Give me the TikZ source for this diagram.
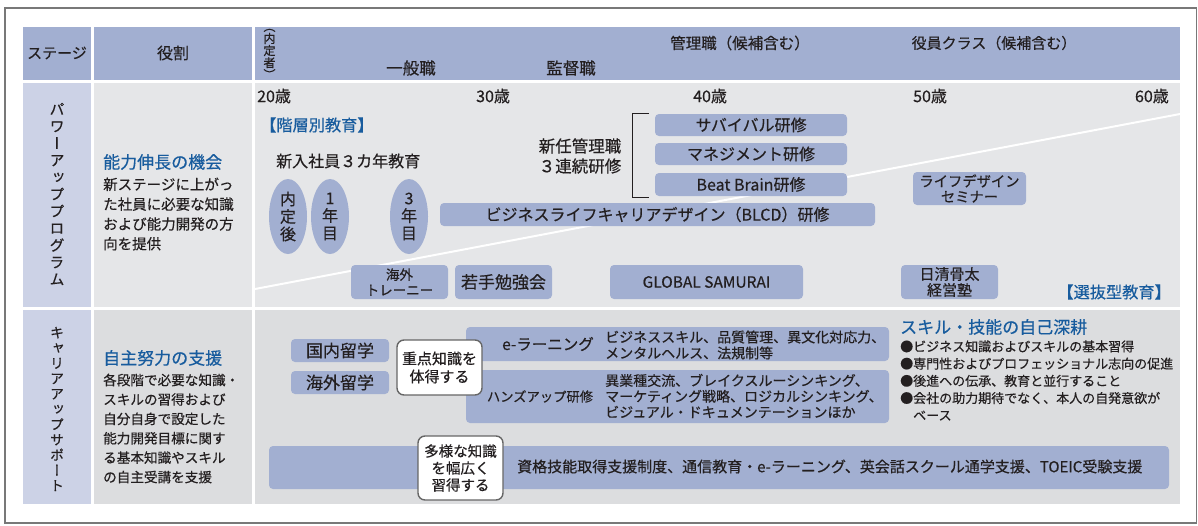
\documentclass[tikz,border=0pt]{standalone}
\usepackage{fontspec}
\usepackage{graphicx}
\setmainfont{Noto Sans CJK JP}[FakeBold=0.45]
\newfontfamily\vfont{Noto Sans CJK JP}[RawFeature={+vert},FakeBold=0.45]
\usetikzlibrary{shapes.geometric}
\definecolor{hdr}{RGB}{162,175,209}
\definecolor{lav}{RGB}{204,210,230}
\definecolor{gA}{RGB}{229,230,232}
\definecolor{gB}{RGB}{220,221,223}
\definecolor{tx}{RGB}{35,31,32}
\definecolor{bl}{RGB}{24,92,158}
\definecolor{frm}{RGB}{120,120,120}
\newcommand{\fs}[2]{\fontsize{#1}{#2}\selectfont}
\tikzset{
  every node/.style={text=tx, inner sep=0pt},
  bx/.style={fill=hdr, rounded corners=4pt, align=center},
  wb/.style={fill=white, draw=frm!85!black, line width=1.4pt, rounded corners=7pt, align=center},
  ell/.style={ellipse, fill=hdr, align=center},
  bluet/.style={text=bl},
  sepline/.style={white, line width=2pt},
  brk/.style={tx, line width=1pt}
}
\begin{document}
\begin{tikzpicture}[x=1pt,y=-1pt]
\useasboundingbox (0,0) rectangle (1198,525);
\fill[white] (0,0) rectangle (1198,525);
\draw[frm, line width=1.2pt] (5,8) rectangle (1196.5,523);
% header
\fill[hdr] (23,27) rectangle (91,80);
\fill[hdr] (94,27) rectangle (252,80);
\fill[hdr] (255,27) rectangle (1180,80);
% row 1
\fill[lav] (23,83) rectangle (91,307);
\fill[gA] (94,83) rectangle (252,307);
\fill[gA] (255,83) rectangle (1180,307);
% row 2
\fill[lav] (23,310) rectangle (91,504);
\fill[gB] (94,310) rectangle (252,504);
\fill[gB] (255,310) rectangle (1180,504);

% header texts
\node[font=\fs{15}{18}] (stage) at (57,53) {ステージ};
\node[font=\fs{16}{18}] (role) at (173,53) {役割};
\node[font=\vfont\fs{12}{10.8}, align=center] (naitei) at (269.5,54) {（\\内\\定\\者\\）};
\node[font=\fs{16.5}{18}] (ippan) at (411,68) {一般職};
\node[font=\fs{16.5}{18}] (kantoku) at (571,68) {監督職};
\node[font=\fs{15.5}{18}] (kanri) at (740,43) {管理職（候補含む）};
\node[font=\fs{15}{18}] (yakuin) at (994,43) {役員クラス（候補含む）};

% column 1 vertical labels
\node[font=\vfont\fs{15}{17}, align=center] (pw) at (57,194) {パ\\ワ\\ー\\ア\\ッ\\プ\\プ\\ロ\\グ\\ラ\\ム};
\node[font=\vfont\fs{14}{15.3}, align=center] (cu) at (57,409) {キ\\ャ\\リ\\ア\\ア\\ッ\\プ\\サ\\ポ\\ー\\ト};

% column 2 texts
\node[font=\fs{17}{20}, bluet, anchor=west] (nouryoku) at (103,162) {能力伸長の機会};
\node[font=\fs{14.5}{19.8}, align=left, anchor=west] (nouryokutx) at (103,214) {新ステージに上がっ\\た社員に必要な知識\\および能力開発の方\\向を提供};
\node[font=\fs{17}{20}, bluet, anchor=west] (jishu) at (103,358) {自主努力の支援};
\node[font=\fs{13.6}{19.4}, align=left, anchor=west] (jishutx) at (103,428.5) {各段階で必要な知識・\\スキルの習得および\\自分自身で設定した\\能力開発目標に関す\\る基本知識やスキル\\の自主受講を支援};

% ages
\node[font=\fs{16}{18}, anchor=west] (a20) at (257,96) {20歳};
\node[font=\fs{16}{18}, anchor=west] (a30) at (476,96) {30歳};
\node[font=\fs{16}{18}, anchor=west] (a40) at (693,96) {40歳};
\node[font=\fs{16}{18}, anchor=west] (a50) at (913,96) {50歳};
\node[font=\fs{16}{18}, anchor=east] (a60) at (1169,96) {60歳};

% white diagonal
\coordinate (L1) at (255,289);
\coordinate (L2) at (1180,114);
\draw[sepline] (L1) -- (L2);

% row 1 content
\node[font=\fs{16.2}{18}, bluet, anchor=west] (kaiso) at (260,125) {【階層別教育】};
\node[font=\fs{16}{18}, anchor=west] (shinnyu) at (276,161) {新入社員３カ年教育};
\node[ell, minimum width=38pt, minimum height=75pt, font=\fs{16}{17.5}] (e1) at (288,216.5) {内\\定\\後};
\node[ell, minimum width=38pt, minimum height=75pt, font=\fs{16}{17.5}] (e2) at (330,216.5) {1\\年\\目};
\node[ell, minimum width=38pt, minimum height=75pt, font=\fs{16}{17.5}] (e3) at (409,216.5) {3\\年\\目};

\node[font=\fs{16.5}{20}, align=center] (shinnin) at (580,156) {新任管理職\\３連続研修};
\coordinate (bt) at (649,113);
\coordinate (bc1) at (632,113);
\coordinate (bc2) at (632,197);
\coordinate (bb) at (649,197);
\draw[brk] (bt) -- (bc1) -- (bc2) -- (bb);

\node[bx, minimum width=192pt, minimum height=22pt, font=\fs{16}{18}] (sv) at (751,125) {サバイバル研修};
\node[bx, minimum width=192pt, minimum height=22pt, font=\fs{16}{18}] (mg) at (751,154) {マネジメント研修};
\node[bx, minimum width=192pt, minimum height=23pt, font=\fs{16}{18}] (bbr) at (751,184.5) {Beat Brain研修};
\node[bx, minimum width=435pt, minimum height=23pt, font=\fs{16}{18}] (blcd) at (657.5,214.5) {ビジネスライフキャリアデザイン（BLCD）研修};
\node[bx, minimum width=113pt, minimum height=33pt, font=\fs{14.3}{15.5}] (life) at (969.5,188.5) {ライフデザイン\\セミナー};

\node[bx, minimum width=97pt, minimum height=34pt, font=\fs{13.5}{15.5}] (trainee) at (399.5,282) {海外\\トレーニー};
\node[bx, minimum width=97pt, minimum height=34pt, font=\fs{17}{18}] (wakate) at (503.5,282) {若手勉強会};
\node[bx, minimum width=193pt, minimum height=34pt, font=\fs{15.5}{18}] (gs) at (706.5,282) {GLOBAL SAMURAI};
\node[bx, minimum width=97pt, minimum height=34pt, font=\fs{15}{16}] (nissin) at (949.5,282) {日清骨太\\経営塾};
\node[font=\fs{16.2}{18}, bluet, anchor=east] (senbatsu) at (1171,292) {【選抜型教育】};

% row 2 content
\node[bx, minimum width=98pt, minimum height=23pt, font=\fs{17}{18}] (kokunai) at (340,350.5) {国内留学};
\node[bx, minimum width=98pt, minimum height=23pt, font=\fs{17}{18}] (kaigai) at (340,382.5) {海外留学};
\node[bx, minimum width=423pt, minimum height=34pt] (elbox) at (677.5,344) {};
\node[bx, minimum width=423pt, minimum height=53pt] (hubox) at (677.5,396.5) {};
\node[wb, minimum width=85pt, minimum height=55pt, font=\fs{15}{18}] (juten) at (439.5,367.5) {重点知識を\\体得する};
\node[font=\fs{15.5}{18}] (el) at (548,344) {e-ラーニング};
\node[font=\fs{14}{16}, align=left, anchor=west] (eltx) at (605,345) {ビジネススキル、品質管理、異文化対応力、\\メンタルヘルス、法規制等};
\node[font=\fs{13.3}{16}] (hu) at (540,396.5) {ハンズアップ研修};
\node[font=\fs{14}{15.8}, align=left, anchor=west] (hutx) at (605,396) {異業種交流、ブレイクスルーシンキング、\\マーケティング戦略、ロジカルシンキング、\\ビジュアル・ドキュメンテーションほか};

\node[font=\fs{17}{20}, bluet, anchor=west] (skill) at (900,327) {スキル・技能の自己深耕};
\node[font=\fs{13}{17.2}, align=left, anchor=west] (skilltx) at (900,380.5) {●ビジネス知識およびスキルの基本習得\\●専門性およびプロフェッショナル志向の促進\\●後進への伝承、教育と並行すること\\●会社の助力期待でなく、本人の自発意欲が\\\hspace*{13pt}ベース};

\node[bx, minimum width=900pt, minimum height=43pt] (longbox) at (719,467.5) {};
\node[wb, minimum width=85pt, minimum height=64pt, font=\fs{14.5}{17}] (tayou) at (460.5,468) {多様な知識\\を幅広く\\習得する};
\node[font=\fs{15}{18}, anchor=west] (shikaku) at (517,466.5) {資格技能取得支援制度、通信教育・e-ラーニング、英会話スクール通学支援、TOEIC受験支援};
\end{tikzpicture}
\end{document}
